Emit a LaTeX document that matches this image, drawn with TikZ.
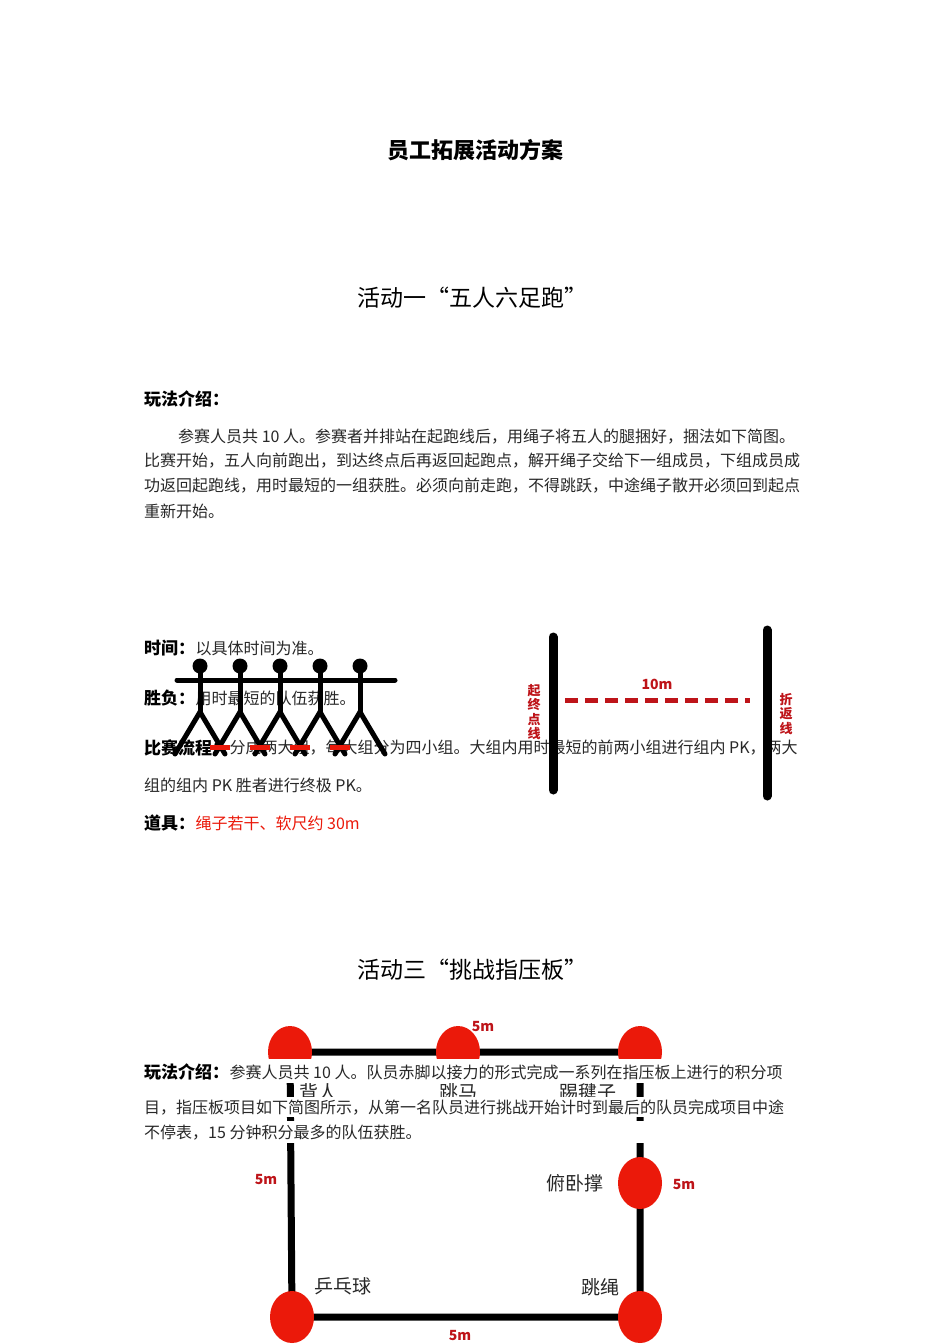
\documentclass[tikz,border=0pt]{standalone}
\usepackage{fontspec}
\setmainfont{Noto Sans CJK SC}
\definecolor{txt}{RGB}{40,40,40}
\definecolor{cred}{RGB}{235,25,10}
\definecolor{dred}{RGB}{190,20,25}
\begin{document}
\begin{tikzpicture}[x=1pt,y=-1pt,
  body/.style={anchor=west,inner sep=0,text=txt,font=\fontsize{16}{18}\selectfont},
  hd/.style={anchor=west,inner sep=0,font=\fontsize{17}{20}\selectfont\bfseries},
  ttl/.style={inner sep=0,font=\fontsize{23}{26}\selectfont},
  stick/.style={line width=5pt,line cap=round},
  post/.style={line width=9pt,line cap=round},
  trk/.style={line width=7pt},
  cone/.style={fill=cred,draw=none},
  lab/.style={inner sep=0,font=\fontsize{19}{22}\selectfont,text=txt},
  dist/.style={inner sep=0,font=\fontsize{14}{16}\selectfont\bfseries,text=dred},
  band/.style={fill=white,draw=none}]
\useasboundingbox[fill=white] (0,0) rectangle (950,1344);
% titles
\node[ttl,font=\fontsize{22}{26}\selectfont\bfseries] (t0) at (475,150) {员工拓展活动方案};
\node[ttl] (t1) at (472,298) {活动一“五人六足跑”};
\node[ttl] (t3) at (472,970) {活动三“挑战指压板”};
% activity 1 text
\node[hd] (h1) at (144,399) {玩法介绍：};
\node[body] (p1) at (178,437) {参赛人员共 10 人。参赛者并排站在起跑线后，用绳子将五人的腿捆好，捆法如下简图。};
\node[body] (p2) at (144,461) {比赛开始，五人向前跑出，到达终点后再返回起跑点，解开绳子交给下一组成员，下组成员成};
\node[body] (p3) at (144,486) {功返回起跑线，用时最短的一组获胜。必须向前走跑，不得跳跃，中途绳子散开必须回到起点};
\node[body] (p4) at (144,511) {重新开始。};
\node[hd] (a1) at (144,648) {时间：};
\node[body] (a1t) at (a1.east) {以具体时间为准。};
\node[hd] (a2) at (144,698) {胜负：};
\node[body] (a2t) at (a2.east) {用时最短的队伍获胜。};
\node[hd] (a3) at (144,748) {比赛流程：};
\node[body] (a3t) at (a3.east) {分成两大组，每大组分为四小组。大组内用时最短的前两小组进行组内 PK，两大};
\node[body] (a4) at (144,785) {组的组内 PK 胜者进行终极 PK。};
\node[hd] (a5) at (144,823) {道具：};
\node[body,text=cred] (a5t) at (a5.east) {绳子若干、软尺约 30m};
% stick figures
\draw[stick] (177,680) -- (395,680);
\foreach \x in {200,240,280,320,360}{
  \fill (\x,666) circle (7.5);
  \draw[stick] (\x,666) -- (\x,712);
  \draw[stick] (\x-25,754) -- (\x,712) -- (\x+25,754);
}
\foreach \x in {220,260,300,340}{
  \draw[line width=5pt,cred] (\x-10,747) -- (\x+10,747);
}
% track
\draw[post] (553,637) -- (553,790);
\draw[post] (767,630) -- (767,796);
\draw[line width=5pt,dred,dash pattern=on 13pt off 7pt] (565,700) -- (750,700);
\node[inner sep=0,text=dred,font=\fontsize{14}{16}\selectfont\bfseries] (l10) at (657,684) {10m};
\node[inner sep=0,text=dred,font=\fontsize{13}{14.5}\selectfont\bfseries,align=center] (s1) at (534,712) {起\\终\\点\\线};
\node[inner sep=0,text=dred,font=\fontsize{13}{14.5}\selectfont\bfseries,align=center] (s2) at (786,714) {折\\返\\线};
% activity 3 diagram
\coordinate (c1) at (290,1052);
\coordinate (c2) at (458,1052);
\coordinate (c3) at (640,1052);
\coordinate (c4) at (640,1183);
\coordinate (c5) at (640,1317);
\coordinate (c6) at (292,1317);
\draw[trk] (c1) -- (c2) -- (c3) -- (c4) -- (c5) -- (c6) -- (c1);
\foreach \c in {c1,c2,c3,c4,c5,c6}{\fill[cone] (\c) ellipse (22 and 26);}
\node[lab] (b1) at (318,1092) {背人};
\node[lab] (b2) at (458,1092) {跳马};
\node[lab] (b3) at (588,1092) {踢毽子};
\node[lab] (b4) at (575,1183) {俯卧撑};
\node[lab] (b5) at (343,1286) {乒乓球};
\node[lab] (b6) at (600,1287) {跳绳};
\node[dist] (d1) at (483,1027) {5m};
\node[dist] (d2) at (266,1180) {5m};
\node[dist] (d3) at (684,1185) {5m};
\node[dist] (d4) at (460,1335) {5m};
\fill[band] (140,1059) rectangle (820,1083);
\fill[band] (140,1097) rectangle (820,1117);
\fill[band] (140,1121) rectangle (820,1143);
\node[hd] (h3) at (144,1072) {玩法介绍：};
\node[body] (q1) at (h3.east) {参赛人员共 10 人。队员赤脚以接力的形式完成一系列在指压板上进行的积分项};
\node[body] (q2) at (144,1108) {目，指压板项目如下简图所示，从第一名队员进行挑战开始计时到最后的队员完成项目中途};
\node[body] (q3) at (144,1133) {不停表，15 分钟积分最多的队伍获胜。};
\end{tikzpicture}
\end{document}
